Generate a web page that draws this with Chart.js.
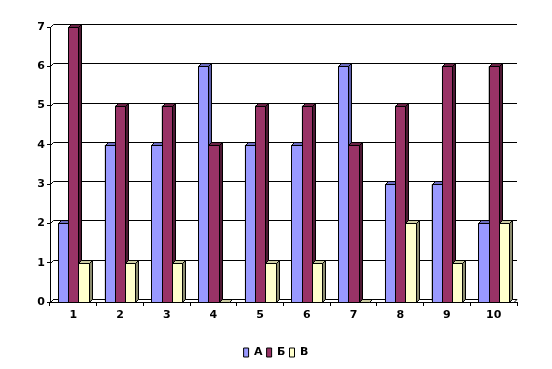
<!DOCTYPE html>
<html>
<head>
<meta charset="utf-8">
<script src="https://cdn.jsdelivr.net/npm/chart.js@4"></script>
<style>
  html, body { margin: 0; padding: 0; background: #fff; }
  #wrap { width: 552px; height: 369px; }
</style>
</head>
<body>
<div id="wrap"><canvas id="chart" width="552" height="369"></canvas></div>
<script>
// data
const categories = ["1", "2", "3", "4", "5", "6", "7", "8", "9", "10"];
const seriesA = [2, 4, 4, 6, 4, 4, 6, 3, 3, 2];
const seriesB = [7, 5, 5, 4, 5, 5, 4, 5, 6, 6];
const seriesV = [1, 1, 1, 0, 1, 1, 0, 2, 1, 2];
const yTicks = [0, 1, 2, 3, 4, 5, 6, 7];

// front / side / top colours per series
const faces = [
  { front: "#9999FF", side: "#5C5CA8", top: "#6B6BC0" },
  { front: "#993366", side: "#4D1933", top: "#6B2447" },
  { front: "#FFFFCC", side: "#8C8C70", top: "#CCCCA3" }
];
const DEPTH = 3;

// 3d boxes + back wall grid
const box3d = {
  id: "box3d",
  afterLayout(chart) {
    // legend is centred on the whole picture in the original
    const shift = 276 - (chart.legend.left + chart.legend.right) / 2;
    chart.legend.left += shift;
    chart.legend.right += shift;
  },
  beforeDatasetsDraw(chart) {
    const ctx = chart.ctx;
    const area = chart.chartArea;
    const y = chart.scales.y;
    ctx.save();
    ctx.strokeStyle = "#000";
    ctx.lineWidth = 1;
    yTicks.forEach(v => {
      const py = Math.round(y.getPixelForValue(v)) + 0.5;
      ctx.beginPath();
      ctx.moveTo(area.left + 0.5, py);
      ctx.lineTo(area.left + DEPTH + 0.5, py - DEPTH);
      if (v > 0) ctx.lineTo(area.right, py - DEPTH);
      ctx.stroke();
    });
    // floor back edge
    const by = Math.round(y.getPixelForValue(0)) + 0.5;
    ctx.beginPath();
    ctx.moveTo(area.left + DEPTH, by - DEPTH);
    ctx.lineTo(area.right, by - DEPTH);
    ctx.lineTo(area.right - DEPTH, by);
    ctx.stroke();
    ctx.restore();
  },
  afterDatasetsDraw(chart) {
    const ctx = chart.ctx;
    ctx.save();
    ctx.strokeStyle = "#000";
    ctx.lineWidth = 1;
    for (let i = 0; i < categories.length; i++) {
      for (let d = 0; d < chart.data.datasets.length; d++) {
        const bar = chart.getDatasetMeta(d).data[i];
        const c = faces[d];
        const l = Math.round(bar.x - bar.width / 2) + 0.5;
        const r = Math.round(bar.x + bar.width / 2) + 0.5;
        const t = Math.round(bar.y) + 0.5;
        const b = Math.round(bar.base) + 0.5;
        // front
        ctx.fillStyle = c.front;
        ctx.fillRect(l, t, r - l, b - t);
        ctx.strokeRect(l, t, r - l, b - t);
        // side
        ctx.fillStyle = c.side;
        ctx.beginPath();
        ctx.moveTo(r, t);
        ctx.lineTo(r + DEPTH, t - DEPTH);
        ctx.lineTo(r + DEPTH, b - DEPTH);
        ctx.lineTo(r, b);
        ctx.closePath();
        ctx.fill();
        ctx.stroke();
        // top
        ctx.fillStyle = c.top;
        ctx.beginPath();
        ctx.moveTo(l, t);
        ctx.lineTo(l + DEPTH, t - DEPTH);
        ctx.lineTo(r + DEPTH, t - DEPTH);
        ctx.lineTo(r, t);
        ctx.closePath();
        ctx.fill();
        ctx.stroke();
      }
    }
    ctx.restore();
  }
};

const font = { family: "'DejaVu Sans', sans-serif", size: 11, weight: "bold" };

new Chart(document.getElementById("chart"), {
  type: "bar",
  data: {
    labels: categories,
    datasets: [
      { label: "А", data: seriesA, backgroundColor: faces[0].front, borderColor: "#000", borderWidth: 1 },
      { label: "Б", data: seriesB, backgroundColor: faces[1].front, borderColor: "#000", borderWidth: 1 },
      { label: "В", data: seriesV, backgroundColor: faces[2].front, borderColor: "#000", borderWidth: 1 }
    ]
  },
  options: {
    responsive: false,
    animation: false,
    layout: { padding: { top: 27, right: 35, left: 0, bottom: 1 } },
    datasets: { bar: { categoryPercentage: 0.66, barPercentage: 1 } },
    scales: {
      x: {
        grid: { drawOnChartArea: false, drawTicks: true, tickLength: 4, color: "#000" },
        border: { color: "#000" },
        ticks: { color: "#000", font: font, padding: 3 },
        afterFit(scale) { scale.height = 41; }
      },
      y: {
        min: 0,
        max: 7,
        grid: { drawOnChartArea: false, drawTicks: true, tickLength: 3, color: "#000" },
        border: { color: "#000" },
        ticks: { stepSize: 1, color: "#000", font: font, padding: 2 },
        afterFit(scale) { scale.width = 50; }
      }
    },
    plugins: {
      tooltip: { enabled: false },
      legend: {
        position: "bottom",
        labels: { boxWidth: 5, boxHeight: 9, padding: 4, color: "#000", font: font }
      }
    }
  },
  plugins: [box3d]
});
</script>
</body>
</html>
